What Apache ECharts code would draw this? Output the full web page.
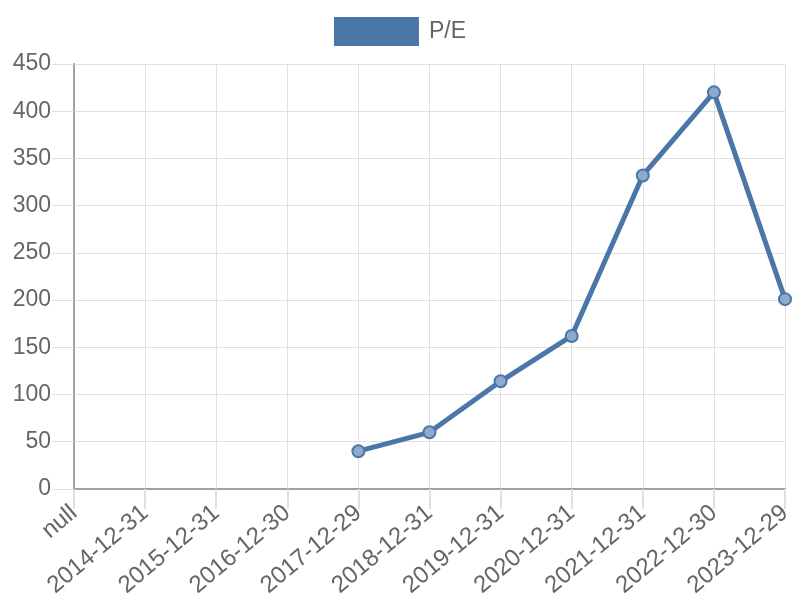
<!DOCTYPE html>
<html>
<head>
<meta charset="utf-8">
<script src="https://cdn.jsdelivr.net/npm/echarts@6/dist/echarts.min.js"></script>
<style>
  html, body { margin: 0; padding: 0; background: #fff; }
  #chart { width: 800px; height: 600px; }
</style>
</head>
<body>
<div id="chart"></div>
<script>
// 日期类目 + P/E 数值
const categories = ['null', '2014-12-31', '2015-12-31', '2016-12-30', '2017-12-29', '2018-12-31',
  '2019-12-31', '2020-12-31', '2021-12-31', '2022-12-30', '2023-12-29'];
const peValues = [null, null, null, null, 40, 60, 114, 162, 332, 420, 201];
const seriesName = 'P/E';

const myChart = echarts.init(document.getElementById('chart'));
const font = 'Liberation Sans, Arial, sans-serif';
const option = {
  animation: false,
  legend: {
    top: 12,
    left: 'center',
    itemWidth: 85,
    itemHeight: 29,
    icon: 'rect',
    data: [{ name: seriesName, itemStyle: { color: '#4a76a8', borderWidth: 0 } }],
    textStyle: { color: '#666', fontSize: 23, fontFamily: font, padding: [0, 0, 0, 5] }
  },
  grid: {
    left: 74,
    right: 15,
    top: 64,
    bottom: 110,
    containLabel: false
  },
  xAxis: {
    type: 'category',
    boundaryGap: false,
    data: categories,
    axisLine: { lineStyle: { color: '#a0a0a0', width: 2 } },
    axisTick: { show: true, length: 20, lineStyle: { color: '#e0e0e0', width: 2 } },
    axisLabel: {
      interval: 0,
      rotate: 40,
      margin: 21,
      color: '#666',
      fontSize: 24,
      fontFamily: font
    },
    splitLine: { show: true, lineStyle: { color: '#e0e0e0', width: 1 } }
  },
  yAxis: {
    type: 'value',
    min: 0,
    max: 450,
    interval: 50,
    axisLine: { show: true, lineStyle: { color: '#a0a0a0', width: 2 } },
    axisTick: { show: true, length: 22, lineStyle: { color: '#e0e0e0' } },
    axisLabel: { color: '#666', fontSize: 23, fontFamily: font, margin: 23 },
    splitLine: { lineStyle: { color: '#e0e0e0', width: 1 } }
  },
  series: [
    {
      name: seriesName,
      type: 'line',
      data: peValues,
      symbol: 'circle',
      symbolSize: 12,
      connectNulls: false,
      lineStyle: { color: '#4a76a8', width: 5 },
      itemStyle: { color: '#8fa9cd', borderColor: '#4a76a8', borderWidth: 2 },
      color: '#4a76a8'
    }
  ]
};
myChart.setOption(option);
</script>
</body>
</html>
